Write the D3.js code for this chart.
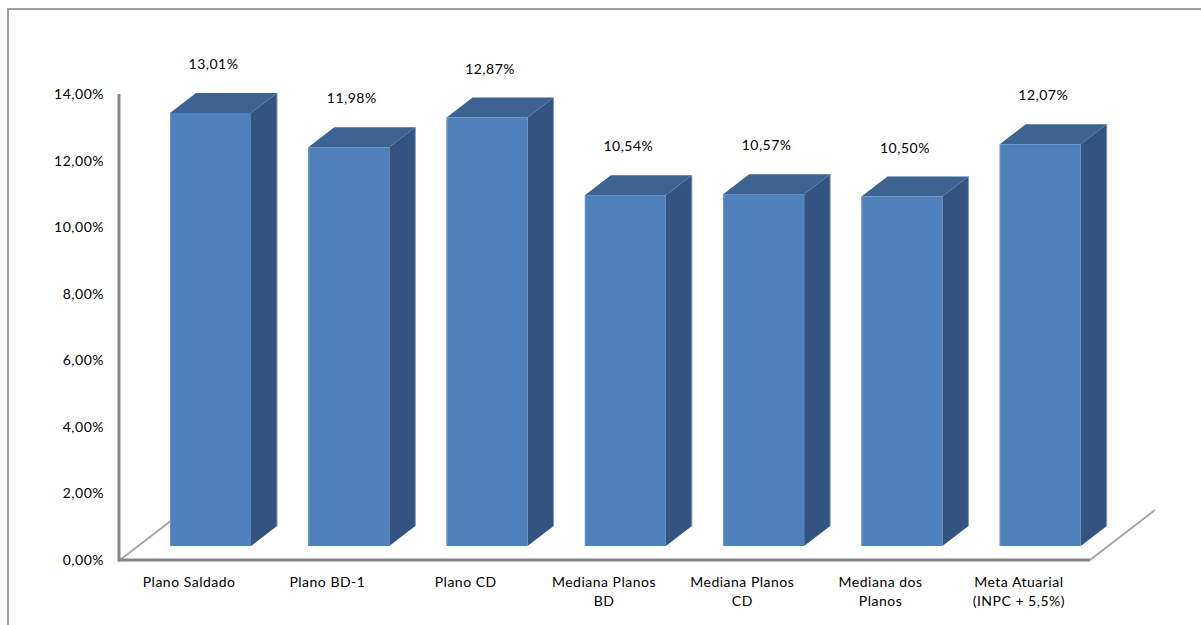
<!DOCTYPE html>
<html>
<head>
<meta charset="utf-8">
<script src="https://cdn.jsdelivr.net/npm/d3@7"></script>
<style>
  html, body { margin: 0; padding: 0; background: #fff; }
  svg { display: block; }
  text { font-family: Lato, "Liberation Sans", Arial, sans-serif; font-size: 14px; fill: #000; letter-spacing: 0.5px; }
</style>
</head>
<body>
<svg id="chart" width="1201" height="625"></svg>
<script>
// ---- data ----
const categories = [
  ["Plano Saldado"],
  ["Plano BD-1"],
  ["Plano CD"],
  ["Mediana Planos", "BD"],
  ["Mediana Planos", "CD"],
  ["Mediana dos", "Planos"],
  ["Meta Atuarial", "(INPC + 5,5%)"]
];
const values = [13.01, 11.98, 12.87, 10.54, 10.57, 10.50, 12.07];
const yTicks = [0, 2, 4, 6, 8, 10, 12, 14];

// ---- layout ----
const svg = d3.select("#chart");
const fmt = v => d3.format(".2f")(v).replace(".", ",") + "%";
const keys = categories.map(c => c.join(" "));

const floorLeft = 120, floorRight = 1088, floorY = 560;
const depthX = 65, depthY = -50;            // full floor depth vector
const frontShift = 0.28, backShift = 0.68;  // bar front/back depth fractions

const x = d3.scaleBand().domain(keys).range([floorLeft, floorRight]);
const y = d3.scaleLinear().domain([0, 14]).range([floorY, 94]);

// outer border
svg.append("rect").attr("x", 8).attr("y", 9).attr("width", 1220).attr("height", 640)
  .attr("fill", "none").attr("stroke", "#a0a0a0").attr("stroke-width", 2);

// floor diagonals
svg.append("line").attr("x1", floorLeft).attr("y1", floorY)
  .attr("x2", floorLeft + depthX).attr("y2", floorY + depthY)
  .attr("stroke", "#a6a6a6").attr("stroke-width", 2);
svg.append("line").attr("x1", floorRight + 2).attr("y1", floorY)
  .attr("x2", floorRight + 2 + depthX).attr("y2", floorY + depthY)
  .attr("stroke", "#a6a6a6").attr("stroke-width", 2);

// bars
const barOffset = 50, barW = 81;
const fdx = depthX * frontShift, fdy = depthY * frontShift;
const bdx = depthX * (backShift - frontShift), bdy = depthY * (backShift - frontShift);

const g = svg.append("g");
keys.forEach((k, i) => {
  const v = values[i];
  const L = x(k) + barOffset, R = L + barW;
  const yB = y(0) + fdy, yT = y(v) + fdy;
  // side
  g.append("path")
    .attr("d", `M${R},${yT}L${R + bdx},${yT + bdy}L${R + bdx},${yB + bdy}L${R},${yB}Z`)
    .attr("fill", "#335381");
  g.append("line").attr("x1", R + bdx).attr("y1", yT + bdy).attr("x2", R + bdx).attr("y2", yB + bdy)
    .attr("stroke", "#7f98bb").attr("stroke-width", 1);
  // top
  g.append("path")
    .attr("d", `M${L},${yT}L${L + bdx},${yT + bdy}L${R + bdx},${yT + bdy}L${R},${yT}Z`)
    .attr("fill", "#3d6392");
  // front
  g.append("rect").attr("x", L).attr("y", yT).attr("width", barW).attr("height", yB - yT)
    .attr("fill", "#4f81bd");
  g.append("line").attr("x1", L + 0.5).attr("y1", yT).attr("x2", L + 0.5).attr("y2", yB)
    .attr("stroke", "#6b95c9").attr("stroke-width", 1);
  // value label
  svg.append("text")
    .attr("x", L + barW / 2 + 3).attr("y", yT - 44)
    .attr("text-anchor", "middle")
    .text(fmt(v));
});

// front axis lines
svg.append("line").attr("x1", floorLeft - 1).attr("y1", y(14)).attr("x2", floorLeft - 1).attr("y2", floorY + 1.5)
  .attr("stroke", "#868686").attr("stroke-width", 3);
svg.append("line").attr("x1", floorLeft - 2).attr("y1", floorY).attr("x2", floorRight + 2).attr("y2", floorY)
  .attr("stroke", "#868686").attr("stroke-width", 3);

// y tick labels
svg.append("g").selectAll("text").data(yTicks).join("text")
  .attr("x", 104).attr("y", d => y(d) + 5)
  .attr("text-anchor", "end")
  .text(d => fmt(d));

// category labels
keys.forEach((k, i) => {
  const t = svg.append("text").attr("text-anchor", "middle");
  categories[i].forEach((line, j) => {
    t.append("tspan").attr("x", x(k) + x.bandwidth() / 2).attr("y", 587 + j * 19).text(line);
  });
});
</script>
</body>
</html>
